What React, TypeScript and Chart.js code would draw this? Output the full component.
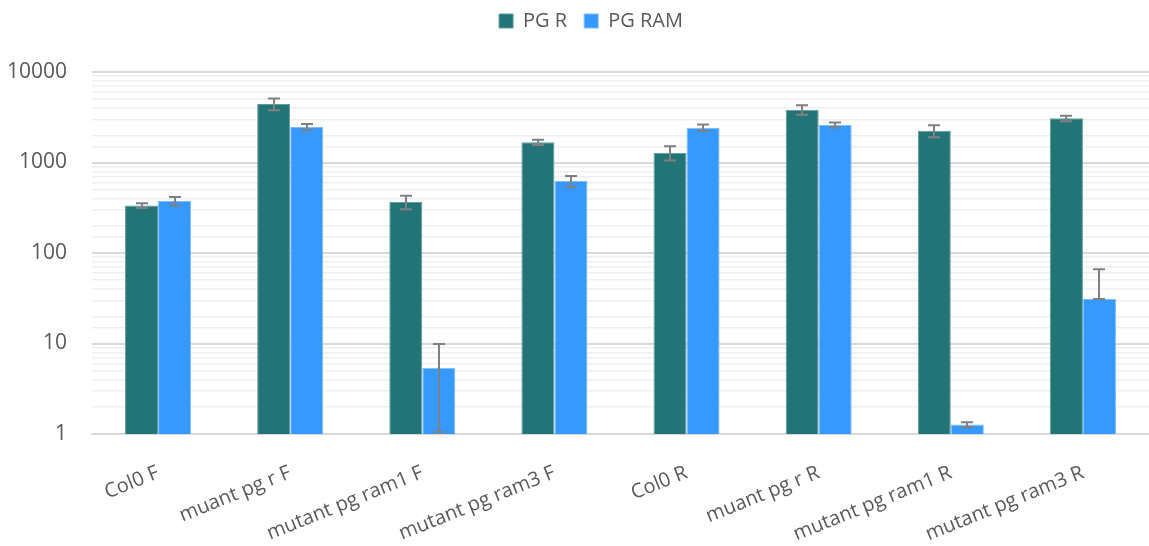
import React, { useEffect, useRef } from 'react';
import { Chart, registerables } from 'chart.js';

Chart.register(...registerables);

const categories = [
  'Col0 F',
  'muant pg r F',
  'mutant pg ram1 F',
  'mutant pg ram3 F',
  'Col0 R',
  'muant pg r R',
  'mutant pg ram1 R',
  'mutant pg ram3 R',
];
const seriesNames = ['PG R', 'PG RAM'];
const pgR = [335, 4430, 366, 1670, 1285, 3830, 2245, 3080];
const pgRErr = [20, 650, 62, 110, 230, 450, 340, 215];
const pgRam = [375, 2470, 5.4, 625, 2425, 2600, 1.27, 31];
const pgRamErr = [40, 200, 4.5, 85, 200, 170, 0.08, 35];
const yMin = 1;
const yMax = 10000;

const FONT = "'Open Sans', 'Liberation Sans', sans-serif";
const TEXT = '#595959';

const isPow10 = (v: number) => {
  if (!v || v <= 0) return false;
  const l = Math.log10(v);
  return Math.abs(l - Math.round(l)) < 1e-9;
};

const legendSpacePlugin = {
  id: 'legendSpace',
  beforeLayout(chart: any) {
    const lg = chart.legend;
    if (lg && !lg._patched) {
      const orig = lg.fit.bind(lg);
      lg.fit = function () {
        orig();
        this.height += 22;
      };
      lg._patched = true;
    }
  },
  afterLayout(chart: any) {
    const lg = chart.legend;
    if (lg) {
      lg.left += 33;
      lg.top -= 9;
      lg.bottom -= 9;
    }
  },
};

const errorBarPlugin = {
  id: 'errorBars',
  afterDatasetsDraw(chart: any) {
    const { ctx, chartArea, scales } = chart;
    const y = scales.y;
    ctx.save();
    ctx.beginPath();
    ctx.rect(chartArea.left, chartArea.top - 30, chartArea.right - chartArea.left, chartArea.bottom - chartArea.top + 30);
    ctx.clip();
    ctx.strokeStyle = '#808080';
    ctx.lineWidth = 2;
    chart.data.datasets.forEach((ds: any, di: number) => {
      const meta = chart.getDatasetMeta(di);
      meta.data.forEach((bar: any, i: number) => {
        const v = ds.data[i];
        const e = ds.errors[i];
        const x = Math.round(bar.x);
        const yTop = y.getPixelForValue(v + e);
        const lo = v - e;
        let yBot = lo > 0 ? y.getPixelForValue(lo) : y.getPixelForValue(v);
        if (yBot > chartArea.bottom - 2) yBot = chartArea.bottom - 2;
        const cap = 6;
        ctx.beginPath();
        ctx.moveTo(x, yTop);
        ctx.lineTo(x, yBot);
        ctx.moveTo(x - cap, yTop);
        ctx.lineTo(x + cap, yTop);
        ctx.moveTo(x - cap, yBot);
        ctx.lineTo(x + cap, yBot);
        ctx.stroke();
      });
    });
    ctx.restore();
  },
};

export default function App() {
  const ref = useRef<HTMLCanvasElement | null>(null);
  useEffect(() => {
    if (!ref.current) return;
    const chart = new Chart(ref.current, {
      type: 'bar',
      data: {
        labels: categories,
        datasets: [
          {
            label: seriesNames[0],
            data: pgR,
            errors: pgRErr,
            backgroundColor: '#237476',
            borderColor: '#5e9c9d',
            borderWidth: 1,
            categoryPercentage: 0.5,
            barPercentage: 1.0,
          } as any,
          {
            label: seriesNames[1],
            data: pgRam,
            errors: pgRamErr,
            backgroundColor: '#3599ff',
            borderColor: '#7dbdff',
            borderWidth: 1,
            categoryPercentage: 0.5,
            barPercentage: 1.0,
          } as any,
        ],
      },
      options: {
        animation: false,
        responsive: true,
        maintainAspectRatio: false,
        layout: { padding: { top: 3, left: 0, right: 0, bottom: 0 } },
        plugins: {
          legend: {
            position: 'top',
            labels: {
              boxWidth: 14,
              boxHeight: 14,
              padding: 17,
              color: TEXT,
              font: { family: FONT, size: 20 },
            },
          },
          tooltip: { enabled: false },
        },
        scales: {
          x: {
            grid: { display: false },
            border: { display: true, color: '#d9d9d9', width: 2 },
            ticks: {
              color: TEXT,
              font: { family: FONT, size: 20 },
              minRotation: 22,
              maxRotation: 22,
              autoSkip: false,
              padding: 19,
            },
            afterFit: (s: any) => {
              s.height = 112;
            },
          },
          y: {
            type: 'logarithmic',
            min: yMin,
            max: yMax,
            border: { display: false },
            grid: {
              drawTicks: false,
              color: (c: any) => (isPow10(c.tick?.value) ? '#d9d9d9' : '#efefef'),
              lineWidth: (c: any) => (isPow10(c.tick?.value) ? 2 : 1.5),
            },
            ticks: {
              autoSkip: false,
              color: TEXT,
              padding: 25,
              font: { family: FONT, size: 21 },
              callback: (v: any) => (isPow10(Number(v)) ? String(Number(v)) : ''),
            },
            afterFit: (s: any) => {
              s.width = 92;
            },
          },
        },
      },
      plugins: [legendSpacePlugin, errorBarPlugin],
    } as any);
    return () => chart.destroy();
  }, []);
  return (
    <div style={{ position: 'absolute', left: 0, top: 0, width: 1149, height: 546, background: '#fff' }}>
      <canvas ref={ref} />
    </div>
  );
}
